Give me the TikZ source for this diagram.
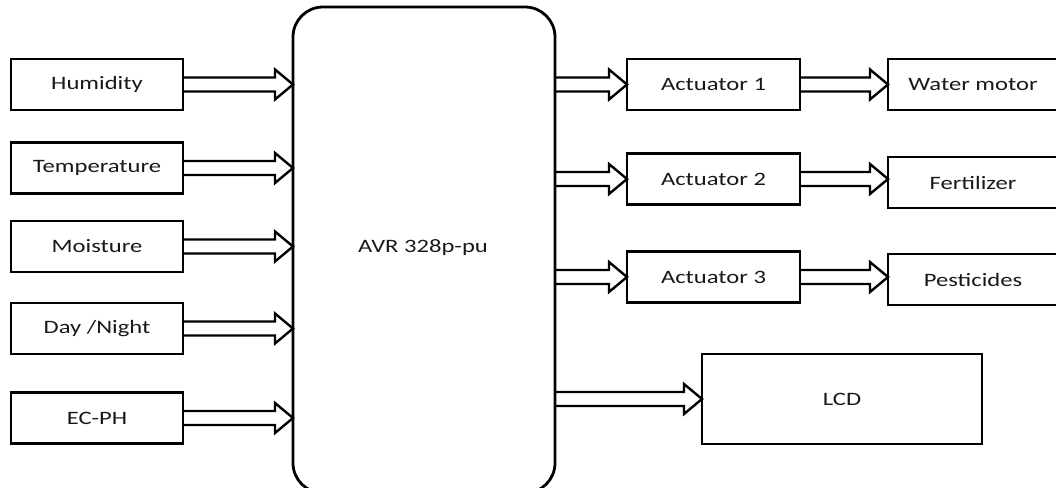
\documentclass[tikz,border=0pt]{standalone}
\usepackage{fontspec}
\setmainfont[FakeStretch=1.3]{Carlito}
\usetikzlibrary{calc}
\newcommand\fatarrow[3]{%
  \draw[fatarrow] ($(#1|-#3)+(0,-7)$) -- ($(#2|-#3)+(-18,-7)$) -- ($(#2|-#3)+(-18,-15)$)
    -- (#2|-#3) -- ($(#2|-#3)+(-18,15)$) -- ($(#2|-#3)+(-18,7)$) -- ($(#1|-#3)+(0,7)$);}
\begin{document}
\begin{tikzpicture}[x=1bp,y=-1bp,
  lbl/.style={font=\fontsize{19}{21}\selectfont,text=black!90},
  box/.style={draw=black,line width=2.8bp,fill=white,rectangle,outer sep=0pt,inner sep=0pt,lbl},
  inbox/.style={box,minimum width=172bp,minimum height=51bp},
  actbox/.style={box,minimum width=173bp,minimum height=51bp},
  outbox/.style={box,minimum width=170bp,minimum height=51bp},
  fatarrow/.style={draw=black,line width=2.4bp,line join=miter}]
\useasboundingbox (0,0) rectangle (1056,488);
\clip (0,0) rectangle (1056,488);
% central controller
\node[box,rounded corners=30bp,minimum width=262bp,minimum height=486bp] (avr) at (424,250) {};
\node[lbl] (avrlabel) at (423,248) {AVR 328p-pu};
% inputs
\node[inbox] (hum) at (97,84.5) {Humidity};
\node[inbox] (temp) at (97,168) {Temperature};
\node[inbox] (moist) at (97,246.5) {Moisture};
\node[inbox] (day) at (97,328.5) {Day /Night};
\node[inbox] (ecph) at (97,418) {EC-PH};
% actuators
\node[actbox] (a1) at (713.5,84.5) {Actuator 1};
\node[actbox] (a2) at (713.5,179) {Actuator 2};
\node[actbox] (a3) at (713.5,277) {Actuator 3};
% outputs
\node[outbox] (wm) at (973,84.5) {Water motor};
\node[outbox] (fert) at (973,182.5) {Fertilizer};
\node[outbox] (pest) at (973,279.5) {Pesticides};
\node[box,minimum width=280bp,minimum height=90bp] (lcd) at (842,399) {LCD};
% arrows
\fatarrow{hum.east}{avr.west}{hum}
\fatarrow{temp.east}{avr.west}{temp}
\fatarrow{moist.east}{avr.west}{moist}
\fatarrow{day.east}{avr.west}{day}
\fatarrow{ecph.east}{avr.west}{ecph}
\fatarrow{avr.east}{a1.west}{a1}
\fatarrow{avr.east}{a2.west}{a2}
\fatarrow{avr.east}{a3.west}{a3}
\fatarrow{a1.east}{wm.west}{a1}
\fatarrow{a2.east}{fert.west}{a2}
\fatarrow{a3.east}{pest.west}{a3}
\fatarrow{avr.east}{lcd.west}{lcd}
\end{tikzpicture}
\end{document}
